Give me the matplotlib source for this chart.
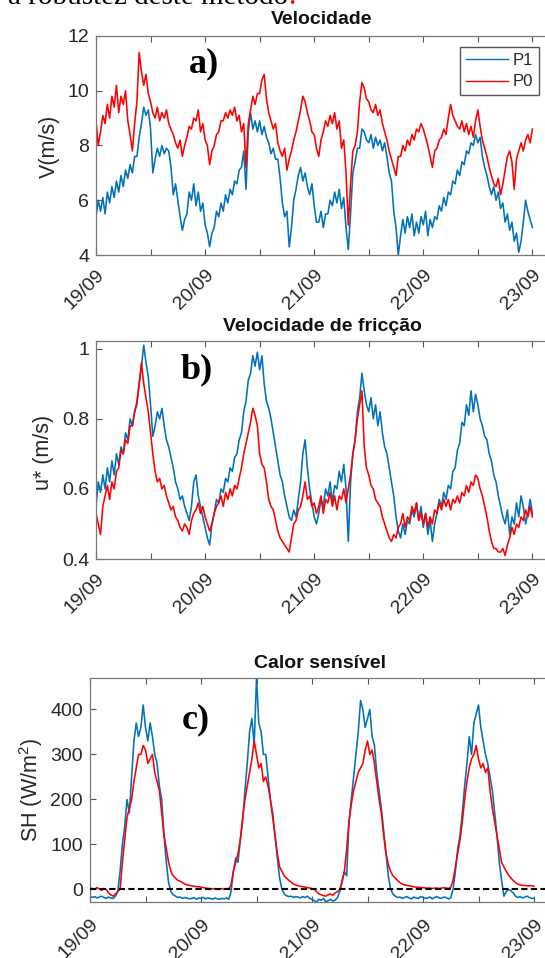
import numpy as np
import matplotlib
matplotlib.use("Agg")
import matplotlib.pyplot as plt

plt.rcParams['font.family'] = ['Liberation Sans', 'DejaVu Sans']
plt.rcParams['mathtext.fontset'] = 'custom'
plt.rcParams['mathtext.rm'] = 'Liberation Sans'

# série a cada 30 min, de 19/09 00h até 23/09 00h
horas = np.arange(0, 96.5, 0.5)
dias = horas / 24.0

rotulos = ['19/09', '20/09', '21/09', '22/09', '23/09']

# a) velocidade do vento (m/s)
v_p1 = [5.4, 6.0, 5.6, 6.1, 5.5, 6.3, 5.9, 6.5, 6.1, 6.7, 6.3, 6.9,
        6.5, 7.1, 6.8, 7.3, 7.0, 7.6, 7.6, 8.3, 8.8, 9.4, 9.1, 9.3,
        8.6, 7.0, 7.5, 7.9, 7.6, 8.0, 7.7, 7.9, 7.8, 7.2, 6.2, 6.6,
        6.0, 5.4, 4.9, 5.3, 5.5, 6.3, 6.0, 6.6, 5.8, 6.3, 5.6, 5.9,
        5.1, 4.8, 4.3, 4.8, 5.0, 5.6, 5.4, 5.9, 5.6, 6.2, 5.9, 6.4,
        6.2, 6.7, 6.6, 7.1, 7.2, 7.8, 6.4, 8.5, 9.2, 8.6, 8.9, 8.5,
        8.9, 8.4, 8.7, 8.3, 8.1, 7.7, 7.9, 7.5, 7.5, 6.8, 5.9, 5.4,
        5.6, 4.3, 5.0, 6.0, 6.4, 6.9, 7.2, 6.7, 7.0, 6.5, 6.2, 6.6,
        5.8, 5.2, 5.2, 5.6, 5.0, 5.5, 5.5, 6.0, 5.8, 6.3, 5.9, 6.4,
        5.7, 6.1, 5.0, 4.2, 5.5, 7.0, 7.4, 7.9, 7.9, 8.6, 8.5, 8.2,
        8.1, 8.4, 7.9, 8.3, 8.0, 8.2, 7.8, 8.1, 7.6, 7.0, 6.7, 5.6,
        5.0, 4.0, 4.7, 5.3, 4.8, 5.4, 5.0, 5.5, 4.7, 5.2, 4.8, 5.4,
        5.1, 5.6, 4.7, 5.3, 5.0, 5.4, 5.3, 5.8, 5.6, 6.1, 5.8, 6.3,
        6.2, 6.7, 6.6, 7.1, 6.9, 7.4, 7.3, 7.8, 7.7, 8.1, 8.0, 8.4,
        8.1, 8.3, 7.6, 7.2, 6.9, 6.5, 6.2, 6.5, 6.0, 6.3, 5.7, 5.9,
        5.2, 5.5, 4.9, 5.2, 4.5, 4.8, 4.1, 4.5, 5.2, 6.0, 5.6, 5.3,
        5.0]
v_p0 = [8.9, 8.0, 8.5, 9.1, 8.8, 9.5, 9.0, 9.8, 9.4, 10.2, 9.2, 9.8,
        9.5, 10.0, 8.9, 8.4, 7.8, 8.8, 9.6, 11.4, 10.7, 10.2, 10.6, 9.9,
        9.6, 9.2, 9.0, 9.4, 8.9, 9.2, 9.0, 9.3, 8.8, 8.6, 8.4, 8.1,
        7.9, 8.2, 7.6, 8.0, 8.3, 8.7, 8.6, 9.0, 8.9, 9.3, 8.5, 8.8,
        8.2, 8.0, 7.3, 7.8, 8.0, 8.4, 8.5, 8.9, 8.9, 9.2, 9.0, 9.3,
        9.1, 9.4, 8.9, 9.1, 8.5, 8.8, 7.2, 8.8, 9.3, 9.8, 9.5, 9.9,
        9.9, 10.4, 10.6, 9.7, 9.2, 8.9, 8.6, 8.8, 8.1, 7.8, 7.6, 7.9,
        7.1, 7.5, 7.8, 8.2, 8.5, 8.9, 9.3, 9.8, 9.6, 9.2, 8.9, 8.5,
        8.4, 7.9, 7.6, 8.2, 8.5, 8.9, 8.7, 9.1, 8.8, 9.2, 8.6, 8.9,
        7.9, 8.2, 7.0, 5.1, 6.6, 7.8, 8.0, 8.5, 9.6, 10.3, 10.1, 9.7,
        9.6, 9.3, 9.2, 9.5, 9.1, 9.3, 8.8, 8.5, 8.2, 7.8, 7.5, 7.2,
        6.9, 7.6, 7.6, 8.0, 7.8, 8.2, 8.0, 8.4, 8.2, 8.6, 8.5, 8.8,
        8.6, 8.3, 8.0, 7.6, 7.2, 7.8, 7.9, 8.2, 8.3, 8.6, 8.4, 9.0,
        9.5, 9.1, 8.9, 8.7, 8.6, 8.9, 8.5, 8.8, 8.4, 8.7, 8.3, 8.9,
        9.3, 8.7, 8.2, 7.9, 7.6, 7.2, 6.9, 6.6, 6.5, 6.8, 6.2, 6.6,
        7.1, 7.6, 7.8, 7.4, 6.4, 7.5, 7.8, 8.1, 7.8, 8.2, 8.4, 8.1,
        8.6]

# b) velocidade de fricção (m/s)
u_p1 = [0.55, 0.62, 0.59, 0.64, 0.60, 0.66, 0.62, 0.68, 0.64, 0.70, 0.67, 0.72,
        0.70, 0.76, 0.74, 0.80, 0.78, 0.82, 0.84, 0.90, 0.95, 1.01, 0.96, 0.92,
        0.84, 0.75, 0.78, 0.82, 0.80, 0.83, 0.78, 0.74, 0.72, 0.69, 0.66, 0.62,
        0.60, 0.57, 0.58, 0.55, 0.53, 0.51, 0.55, 0.62, 0.64, 0.58, 0.55, 0.52,
        0.49, 0.46, 0.44, 0.50, 0.53, 0.57, 0.56, 0.60, 0.59, 0.63, 0.62, 0.66,
        0.65, 0.69, 0.70, 0.74, 0.76, 0.82, 0.85, 0.91, 0.93, 0.98, 0.95, 0.99,
        0.94, 0.98, 0.90, 0.85, 0.83, 0.80, 0.76, 0.72, 0.68, 0.64, 0.62, 0.58,
        0.55, 0.52, 0.51, 0.54, 0.52, 0.57, 0.62, 0.70, 0.74, 0.66, 0.60, 0.56,
        0.52, 0.50, 0.53, 0.57, 0.55, 0.60, 0.58, 0.62, 0.56, 0.61, 0.60, 0.65,
        0.62, 0.67, 0.60, 0.45, 0.62, 0.70, 0.74, 0.82, 0.86, 0.93, 0.88, 0.84,
        0.82, 0.86, 0.80, 0.84, 0.78, 0.82, 0.76, 0.72, 0.70, 0.66, 0.62, 0.58,
        0.52, 0.48, 0.46, 0.50, 0.47, 0.51, 0.50, 0.54, 0.52, 0.56, 0.51, 0.55,
        0.49, 0.53, 0.47, 0.51, 0.45, 0.50, 0.53, 0.57, 0.55, 0.59, 0.57, 0.61,
        0.60, 0.65, 0.66, 0.71, 0.73, 0.79, 0.78, 0.84, 0.81, 0.88, 0.82, 0.87,
        0.84, 0.80, 0.78, 0.75, 0.74, 0.70, 0.68, 0.64, 0.62, 0.58, 0.55, 0.52,
        0.50, 0.54, 0.47, 0.52, 0.50, 0.56, 0.52, 0.58, 0.55, 0.50, 0.53, 0.57,
        0.53]
u_p0 = [0.53, 0.50, 0.47, 0.55, 0.58, 0.61, 0.57, 0.62, 0.60, 0.65, 0.66, 0.71,
        0.70, 0.74, 0.73, 0.78, 0.78, 0.82, 0.85, 0.90, 0.96, 0.90, 0.86, 0.82,
        0.76, 0.70, 0.65, 0.62, 0.63, 0.60, 0.61, 0.58, 0.56, 0.54, 0.55, 0.52,
        0.51, 0.49, 0.48, 0.50, 0.49, 0.47, 0.51, 0.53, 0.54, 0.56, 0.53, 0.55,
        0.52, 0.50, 0.48, 0.50, 0.53, 0.55, 0.56, 0.58, 0.55, 0.59, 0.57, 0.60,
        0.58, 0.61, 0.60, 0.63, 0.66, 0.70, 0.73, 0.76, 0.79, 0.83, 0.81, 0.78,
        0.70, 0.67, 0.66, 0.62, 0.57, 0.55, 0.54, 0.51, 0.48, 0.46, 0.45, 0.44,
        0.43, 0.42, 0.46, 0.50, 0.51, 0.54, 0.55, 0.58, 0.62, 0.57, 0.58, 0.55,
        0.56, 0.53, 0.55, 0.58, 0.53, 0.57, 0.56, 0.59, 0.55, 0.58, 0.54, 0.58,
        0.57, 0.60, 0.56, 0.60, 0.64, 0.70, 0.74, 0.80, 0.84, 0.88, 0.72, 0.66,
        0.64, 0.61, 0.60, 0.57, 0.56, 0.55, 0.52, 0.50, 0.48, 0.46, 0.45, 0.47,
        0.46, 0.49, 0.50, 0.53, 0.49, 0.52, 0.51, 0.55, 0.53, 0.56, 0.51, 0.53,
        0.50, 0.53, 0.49, 0.52, 0.50, 0.54, 0.53, 0.56, 0.54, 0.57, 0.55, 0.57,
        0.54, 0.57, 0.56, 0.58, 0.56, 0.59, 0.58, 0.61, 0.59, 0.62, 0.61, 0.64,
        0.63, 0.60, 0.58, 0.55, 0.52, 0.48, 0.45, 0.43, 0.43, 0.42, 0.42, 0.43,
        0.41, 0.44, 0.46, 0.49, 0.47, 0.50, 0.49, 0.52, 0.51, 0.54, 0.52, 0.55,
        0.52]

# c) calor sensível (W/m2)
sh_p1 = [-15, -18, -16, -19, -17, -15, -18, -20, -17, -19, -20, -15,
         -5, 40, 100, 140, 200, 170, 250, 330, 370, 340, 360, 410,
         360, 330, 370, 340, 300, 280, 230, 200, 120, 60, 15, -5,
         -12, -15, -18, -17, -20, -18, -19, -21, -20, -18, -22, -19,
         -20, -18, -21, -19, -20, -22, -19, -21, -22, -20, -21, -19,
         -22, -5, 40, 70, 60, 110, 150, 220, 280, 350, 380, 320,
         470, 370, 350, 300, 300, 250, 200, 170, 120, 70, 25, 0,
         -10, -14, -16, -15, -18, -16, -17, -19, -16, -18, -15, -20,
         -22, -25, -28, -22, -24, -20, -28, -25, -22, -26, -24, -18,
         -5, 20, 40, 30, 150, 200, 250, 300, 350, 420, 400, 360,
         380, 400, 340, 320, 260, 220, 180, 130, 80, 30, 0, -10,
         -15, -18, -17, -20, -18, -16, -19, -21, -17, -19, -20, -16,
         -18, -20, -19, -17, -21, -18, -16, -19, -20, -17, -18, -21,
         -19, 0, 40, 90, 120, 170, 230, 280, 340, 300, 370, 390,
         410, 360, 330, 300, 280, 250, 220, 170, 120, 60, 20, -15,
         -5, 0, -3, -8, -15, -18, -16, -19, -17, -15, -18, -20,
         -20]
sh_p0 = [3, 2, 0, 4, 1, -2, 2, 0, -8, -12, -15, -10,
         -5, 0, 60, 110, 160, 180, 200, 240, 270, 300, 300, 320,
         310, 280, 290, 300, 260, 240, 220, 170, 120, 90, 60, 40,
         30, 25, 20, 18, 15, 12, 10, 9, 8, 7, 6, 6,
         5, 4, 3, 2, 2, 1, 2, 0, 1, 2, 0, 2,
         1, 10, 40, 60, 80, 110, 160, 200, 230, 260, 290, 330,
         300, 270, 280, 240, 250, 230, 200, 160, 120, 80, 50, 40,
         30, 25, 20, 16, 12, 10, 8, 7, 6, 5, 4, 3,
         2, 0, -5, -10, -12, -14, -15, -12, -10, -13, -8, -5,
         0, 15, 40, 90, 150, 190, 220, 240, 260, 270, 280, 310,
         330, 300, 310, 280, 240, 200, 170, 120, 80, 55, 40, 30,
         25, 20, 15, 12, 10, 9, 8, 7, 6, 5, 5, 4,
         4, 3, 3, 3, 2, 3, 3, 2, 3, 4, 3, 2,
         5, 20, 50, 80, 110, 150, 200, 240, 270, 290, 300, 320,
         290, 270, 280, 260, 270, 220, 180, 150, 120, 90, 60, 50,
         40, 32, 25, 20, 15, 12, 10, 9, 9, 8, 8, 8,
         7]

azul = '#0072BD'
vermelho = '#FF0000'
cinza_txt = '#262626'

W, H = 545, 958
fig = plt.figure(figsize=(W / 100, H / 100), dpi=100)


def caixa(esq, topo, dir_, base):
    return [esq / W, 1 - base / H, (dir_ - esq) / W, (base - topo) / H]


ax_a = fig.add_axes(caixa(96, 36, 548, 255))
ax_b = fig.add_axes(caixa(96, 341, 548, 559))
ax_c = fig.add_axes(caixa(90, 678, 548, 902))


def estilo(ax, xmax, pad):
    ax.set_xlim(0, xmax)
    marcas = np.arange(0, 4.01, 0.5)
    ax.set_xticks(marcas)
    ax.set_xticklabels([rotulos[int(m)] if m == int(m) else '' for m in marcas],
                       rotation=45, ha='right', va='top', rotation_mode='anchor')
    ax.tick_params(axis='both', direction='in', length=4, width=0.8, color='#555555',
                   top=True, right=False, labelsize=14, labelcolor=cinza_txt)
    ax.tick_params(axis='x', pad=pad)
    ax.tick_params(axis='y', pad=5)
    for s in ax.spines.values():
        s.set_color('#777777')
        s.set_linewidth(0.9)


# a)
ax_a.plot(dias, v_p1, color=azul, lw=1.15, label='P1')
ax_a.plot(dias, v_p0, color=vermelho, lw=1.15, label='P0')
estilo(ax_a, 452 / 109.1, 8)
ax_a.set_ylim(4, 12)
ax_a.set_yticks([4, 6, 8, 10, 12])
leg = ax_a.legend(loc='upper right', bbox_to_anchor=(539 / W, 1 - 47 / H),
                  bbox_transform=fig.transFigure, borderaxespad=0, fancybox=False,
                  edgecolor='#555555', framealpha=1, fontsize=12, handlelength=2.5,
                  handletextpad=0.3, labelspacing=0.4, borderpad=0.35)
leg.get_frame().set_linewidth(1.0)
for t in leg.get_texts():
    t.set_color(cinza_txt)
for l in leg.get_lines():
    l.set_linewidth(1.0)

# b)
ax_b.plot(dias, u_p1, color=azul, lw=1.15)
ax_b.plot(dias, u_p0, color=vermelho, lw=1.15)
estilo(ax_b, 452 / 109.1, 8)
ax_b.set_ylim(0.4, 1.022)
ax_b.set_yticks([0.4, 0.6, 0.8, 1.0])
ax_b.set_yticklabels(['0.4', '0.6', '0.8', '1'])

# c)
ax_c.plot(dias, sh_p1, color=azul, lw=1.15)
ax_c.plot(dias, sh_p0, color=vermelho, lw=1.15)
ax_c.axhline(0, color='k', ls=(0, (3, 1.6)), lw=1.5, zorder=5)
estilo(ax_c, 458 / 111.0, 10)
ax_c.set_ylim(-28, 470)
ax_c.set_yticks([0, 100, 200, 300, 400])

# títulos e rótulos
titulos = [('Velocidade', 322, 20), ('Velocidade de fricção', 322, 327),
           ('Calor sensível', 320, 664)]
for txt, x, y in titulos:
    fig.text(x / W, 1 - y / H, txt, ha='center', va='center', fontsize=14,
             weight='bold', color='#111111')

ylabels = [('V(m/s)', 49.5, 146), ('u* (m/s)', 43, 452), ('SH (W/m$^2$)', 31, 790)]
for txt, x, y in ylabels:
    fig.text(x / W, 1 - y / H, txt, ha='center', va='center', rotation=90,
             fontsize=15.5, color=cinza_txt)

for txt, x, y in [('a)', 189, 72), ('b)', 181, 378), ('c)', 182, 728)]:
    fig.text(x / W, 1 - y / H, txt, family='Liberation Serif', weight='bold',
             fontsize=26, va='baseline', ha='left', color='black')

# linha de texto do documento cortada no topo
frase = fig.text(8 / W, 1 - 4 / H, 'a robustez deste método', family='Liberation Serif',
                 fontsize=21, va='baseline', ha='left', color='black')
fig.canvas.draw()
bb = frase.get_window_extent(fig.canvas.get_renderer())
fig.text(bb.x1 / fig.bbox.width, 1 - 4 / H, '.', family='Liberation Serif',
         fontsize=21, va='baseline', ha='left', color=vermelho)

fig.savefig('out.png', dpi=100)
